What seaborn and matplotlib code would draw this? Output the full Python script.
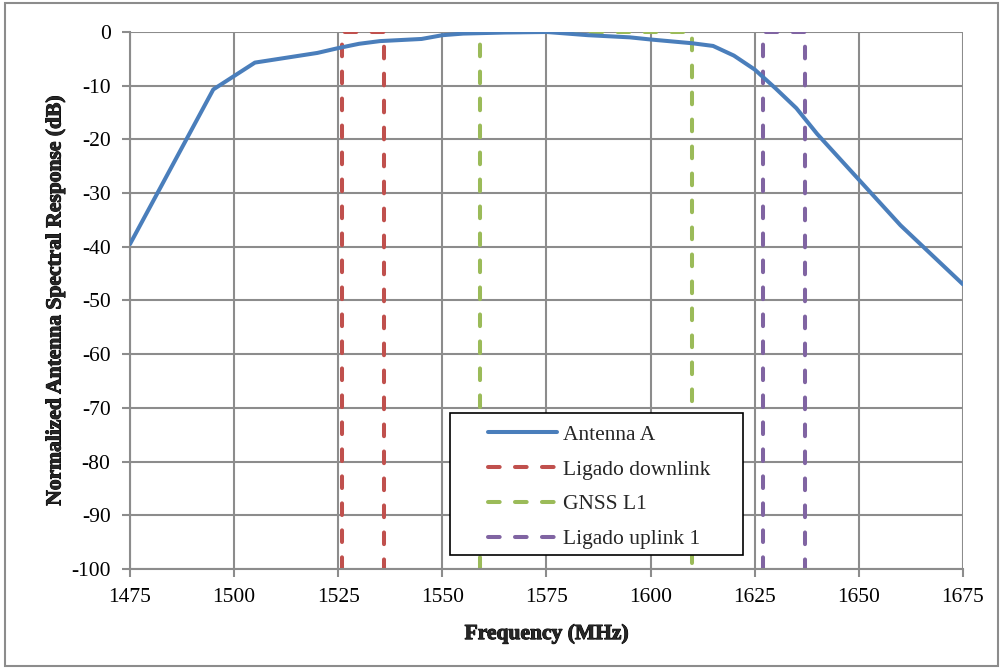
import matplotlib
matplotlib.use("Agg")
import matplotlib.pyplot as plt
from matplotlib.patches import Rectangle
import matplotlib.patheffects as pe
import seaborn as sns
import pandas as pd

# Data
freq = [1475, 1495, 1505, 1520, 1525, 1530, 1535, 1545, 1550, 1555, 1565, 1575,
        1585, 1595, 1600, 1610, 1615, 1620, 1625, 1630, 1635, 1640, 1650, 1660, 1675]
resp = [-39.5, -10.7, -5.7, -3.9, -3.0, -2.2, -1.7, -1.3, -0.6, -0.3, -0.1, 0.0,
        -0.6, -1.0, -1.4, -2.1, -2.6, -4.4, -7.0, -10.5, -14.2, -19.0, -27.5, -36.0, -47.0]

band_names = ["Ligado downlink", "GNSS L1", "Ligado uplink 1"]
band_lo = [1526, 1559, 1627]
band_hi = [1536, 1610, 1637]
band_top = 0
band_bottom = -100

xticks = [1475, 1500, 1525, 1550, 1575, 1600, 1625, 1650, 1675]
yticks = [0, -10, -20, -30, -40, -50, -60, -70, -80, -90, -100]

sns.set_theme(style="white")
plt.rcParams['font.family'] = ['Liberation Serif', 'DejaVu Serif']
plt.rcParams['axes.unicode_minus'] = False

fig = plt.figure(figsize=(10.03, 6.69), dpi=100)
ax = fig.add_axes([0.1296, 0.1495, 0.8305, 0.8027])

grid_c = "#8c8c8c"
for xv in xticks:
    ax.axvline(xv, color=grid_c, lw=1.5, zorder=0)
for yv in yticks:
    ax.axhline(yv, color=grid_c, lw=1.5, zorder=0)

LW = 2.9
DASH = (0, (2.9, 3.8))
df = pd.DataFrame({"Frequency": freq, "Response": resp})
sns.lineplot(data=df, x="Frequency", y="Response", ax=ax, color="#4a7ebb",
             lw=LW, label="Antenna A", zorder=3, estimator=None)

colors = ["#c0504d", "#9bbb59", "#8064a2"]
for name, lo, hi, c in zip(band_names, band_lo, band_hi, colors):
    bd = pd.DataFrame({"x": [lo, lo, hi, hi],
                       "y": [band_bottom, band_top, band_top, band_bottom]})
    sns.lineplot(data=bd, x="x", y="y", sort=False, estimator=None, ax=ax,
                 color=c, lw=LW, linestyle=DASH, label=name, zorder=2)
for ln in ax.get_lines()[-3:]:
    ln.set_dash_capstyle("round")
    ln.set_linestyle(DASH)

ax.set_xlim(1475, 1675)
ax.set_ylim(-100, 0)
ax.set_xticks(xticks)
ax.set_yticks(yticks)
ax.tick_params(axis="both", labelsize=15.5, labelcolor="black", color=grid_c,
               length=6, width=1.5, direction="out", bottom=True, left=True)
ax.tick_params(axis="x", pad=8)
ax.tick_params(axis="y", pad=8)
for s in ["top", "right"]:
    ax.spines[s].set_visible(False)
for s in ["left", "bottom"]:
    ax.spines[s].set_color(grid_c)
    ax.spines[s].set_linewidth(1.5)

bold = [pe.withStroke(linewidth=0.7, foreground="black")]
xl = ax.set_xlabel("Frequency (MHz)", fontsize=15.5, fontweight="bold", labelpad=12)
yl = ax.set_ylabel("Normalized Antenna Spectral Response (dB)", fontsize=15.5,
                   fontweight="bold", labelpad=4)
xl.set_path_effects(bold)
yl.set_path_effects(bold)

# legend frame (Excel style: wide horizontal padding)
ax.add_patch(Rectangle((0.3842, 0.0261), 0.3517, 0.2644, transform=ax.transAxes,
                       facecolor="white", edgecolor="black", lw=1.2,
                       zorder=4, clip_on=False))
leg = ax.legend(loc="upper left", bbox_to_anchor=(0.4295, 0.2690), fontsize=15.5,
                frameon=False, handlelength=3.2, handletextpad=0.30,
                borderpad=0, labelspacing=0.69, borderaxespad=0)
leg.set_zorder(5)
for h in leg.get_lines():
    h.set_dash_capstyle("round")

fig.patches.append(Rectangle((0.005, 0.004), 0.99, 0.992, transform=fig.transFigure,
                             fill=False, edgecolor="#8c8c8c", lw=1.5))

fig.savefig("out.png", dpi=100)
